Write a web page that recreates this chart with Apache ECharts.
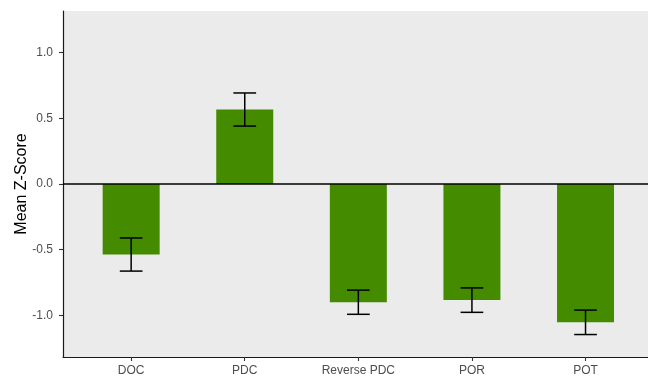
<!DOCTYPE html>
<html>
<head>
<meta charset="utf-8">
<script src="https://cdn.jsdelivr.net/npm/echarts@6/dist/echarts.min.js"></script>
<style>
  html, body { margin: 0; padding: 0; background: #fff; }
  #chart { width: 648px; height: 377px; }
</style>
</head>
<body>
<div id="chart"></div>
<script>
// Mean Z-score per condition with standard-error bars
var categories = ['DOC', 'PDC', 'Reverse PDC', 'POR', 'POT'];
var means = [-0.537, 0.567, -0.900, -0.884, -1.053];
var errors = [0.126, 0.126, 0.092, 0.093, 0.093];
var yTicks = [-1.0, -0.5, 0.0, 0.5, 1.0];

var positions = categories.map(function (c, i) { return i + 1; });
var barData = means.map(function (m, i) { return [positions[i], m]; });
var errData = means.map(function (m, i) { return [positions[i], m - errors[i], m + errors[i]]; });

var chart = echarts.init(document.getElementById('chart'), null, { renderer: 'canvas' });
var font = 'Liberation Sans, Arial, sans-serif';

chart.setOption({
  animation: false,
  backgroundColor: '#ffffff',
  grid: {
    left: 63, right: 0, top: 11, bottom: 20,
    show: true, backgroundColor: '#EBEBEB', borderWidth: 0
  },
  xAxis: {
    type: 'value',
    min: 0.4, max: 5.55,
    axisLine: { show: true, onZero: false, lineStyle: { color: '#1a1a1a', width: 1.2 } },
    axisTick: { show: true, length: 4, customValues: positions, lineStyle: { color: '#333', width: 1.1 } },
    axisLabel: {
      customValues: positions,
      margin: 8,
      color: '#4D4D4D', fontSize: 12, fontFamily: font,
      formatter: function (v) { return categories[Math.round(v) - 1] || ''; }
    },
    splitLine: { show: false }
  },
  yAxis: {
    type: 'value',
    min: -1.317, max: 1.317,
    name: 'Mean Z-Score',
    nameLocation: 'middle',
    nameGap: 33,
    nameMoveOverlap: false,
    nameTextStyle: { color: '#000', fontSize: 16, fontFamily: font },
    axisLine: { show: true, onZero: false, lineStyle: { color: '#1a1a1a', width: 1.2 } },
    axisTick: { show: true, length: 4, customValues: yTicks, lineStyle: { color: '#333', width: 1.1 } },
    axisLabel: {
      customValues: yTicks,
      margin: 10,
      color: '#4D4D4D', fontSize: 12, fontFamily: font,
      formatter: function (v) { return v.toFixed(1); }
    },
    splitLine: { show: false }
  },
  series: [
    {
      type: 'bar',
      data: barData,
      barWidth: 57,
      itemStyle: { color: '#458B00' },
      markLine: {
        silent: true,
        symbol: 'none',
        label: { show: false },
        lineStyle: { color: '#000', width: 1.5, type: 'solid' },
        data: [{ yAxis: 0 }]
      }
    },
    {
      type: 'custom',
      data: errData,
      z: 5,
      renderItem: function (params, api) {
        var x = api.value(0);
        var lo = api.coord([x, api.value(1)]);
        var hi = api.coord([x, api.value(2)]);
        var half = api.size([0.2, 0])[0] / 2;
        var style = { stroke: '#000', lineWidth: 1.5, fill: null };
        return {
          type: 'group',
          children: [
            { type: 'line', shape: { x1: lo[0], y1: lo[1], x2: hi[0], y2: hi[1] }, style: style },
            { type: 'line', shape: { x1: lo[0] - half, y1: lo[1], x2: lo[0] + half, y2: lo[1] }, style: style },
            { type: 'line', shape: { x1: hi[0] - half, y1: hi[1], x2: hi[0] + half, y2: hi[1] }, style: style }
          ]
        };
      }
    }
  ]
});
</script>
</body>
</html>
